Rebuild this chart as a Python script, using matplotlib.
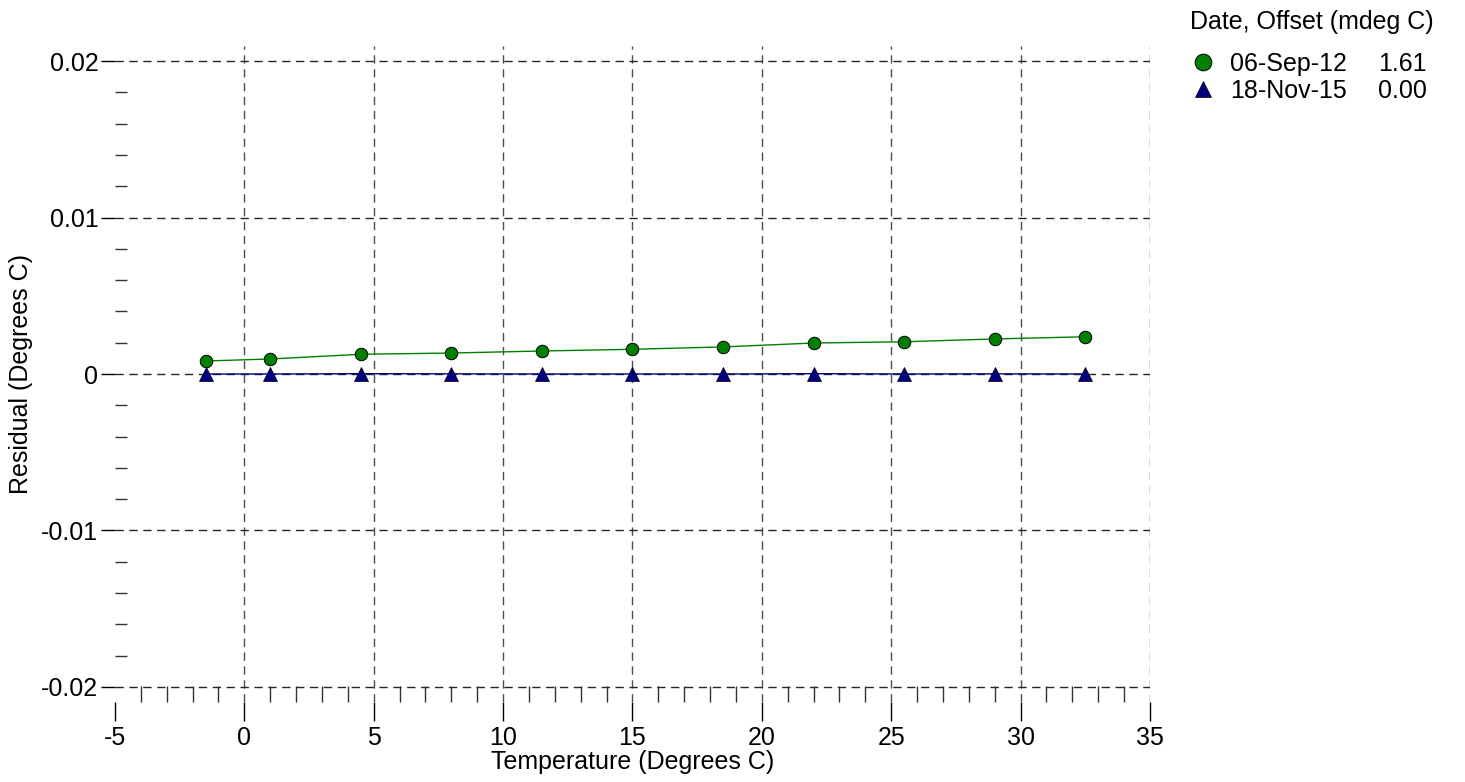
import matplotlib
matplotlib.use("Agg")
from matplotlib import pyplot as plt
from matplotlib.ticker import MultipleLocator, FixedFormatter, FixedLocator

plt.rcParams['font.family'] = ['Liberation Sans', 'DejaVu Sans']
plt.rcParams['axes.unicode_minus'] = False

# data
temps = [-1.5, 1, 4.5, 8, 11.5, 15, 18.5, 22, 25.5, 29, 32.5]
resid_2012 = [0.00083, 0.00096, 0.00126, 0.00134, 0.00147, 0.00158,
              0.00173, 0.00198, 0.00206, 0.00224, 0.00238]
resid_2015 = [0.0, 0.0, 0.00002, 0.00001, 0.0, 0.0,
              0.0, 0.00002, 0.0, 0.00001, 0.0]
dates = ['06-Sep-12', '18-Nov-15']
offsets = ['1.61', '0.00']

x_ticks = [-5, 0, 5, 10, 15, 20, 25, 30, 35]
y_ticks = [-0.02, -0.01, 0, 0.01, 0.02]
y_labels = ['-0.02', '-0.01', '0', '0.01', '0.02']

fs = 18
fig = plt.figure(figsize=(14.65, 7.82), dpi=100)
ax = fig.add_axes([115/1465, 1 - 702/782, (1150 - 115)/1465, (702 - 46)/782])

# dashed grid (skip x=-5, it sits on the axis)
for xv in x_ticks[1:]:
    ax.axvline(xv, color='0.3', lw=1, ls=(0, (6, 4)), zorder=0)
for yv in y_ticks:
    ax.axhline(yv, color='0.15', lw=1, ls=(0, (6, 4)), zorder=0)

ax.plot(temps, resid_2012, color='green', lw=1, marker='o', ms=9,
        mfc='green', mec='black', mew=0.7, label=dates[0], zorder=3)
ax.plot(temps, resid_2015, color='navy', lw=1, marker='^', ms=9.5,
        mfc='navy', mec='black', mew=0.5, label=dates[1], zorder=3)

ax.set_xlim(-5, 35)
ax.set_ylim(-0.02096, 0.02096)

ax.xaxis.set_major_locator(FixedLocator(x_ticks))
ax.xaxis.set_minor_locator(MultipleLocator(1))
ax.yaxis.set_major_locator(FixedLocator(y_ticks))
ax.yaxis.set_major_formatter(FixedFormatter(y_labels))
ax.yaxis.set_minor_locator(MultipleLocator(0.002))

for s in ax.spines.values():
    s.set_visible(False)

ax.tick_params(axis='x', which='major', direction='out', length=14, width=1,
               labelsize=fs, pad=3)
ax.tick_params(axis='x', which='minor', direction='in', length=11.5, width=1,
               color='0.2')
ax.tick_params(axis='y', which='major', direction='out', length=10, width=1,
               labelsize=fs, pad=2)
ax.tick_params(axis='y', which='minor', direction='in', length=8.6, width=1,
               color='0.2')

ax.set_xlabel('Temperature (Degrees C)', fontsize=fs, labelpad=0)
ax.set_ylabel('Residual (Degrees C)', fontsize=fs, labelpad=6)

# legend: title and offsets as separate texts
fig.text(1190/1465, 1 - 22/782, 'Date, Offset (mdeg C)', fontsize=fs,
         va='center', ha='left')
leg = fig.legend(loc='upper left', bbox_to_anchor=(1190/1465, 1 - 52/782),
                 frameon=False, fontsize=fs, handlelength=1.0,
                 handletextpad=0.6, labelspacing=0.1, borderaxespad=0,
                 borderpad=0)
for h in leg.legend_handles:
    h.set_linestyle('None')
    h.set_markersize(12)

fig.text(1378/1465, 1 - 64/782, offsets[0], fontsize=fs, va='center')
fig.text(1378/1465, 1 - 91/782, offsets[1], fontsize=fs, va='center')

fig.savefig('out.png', dpi=100)
